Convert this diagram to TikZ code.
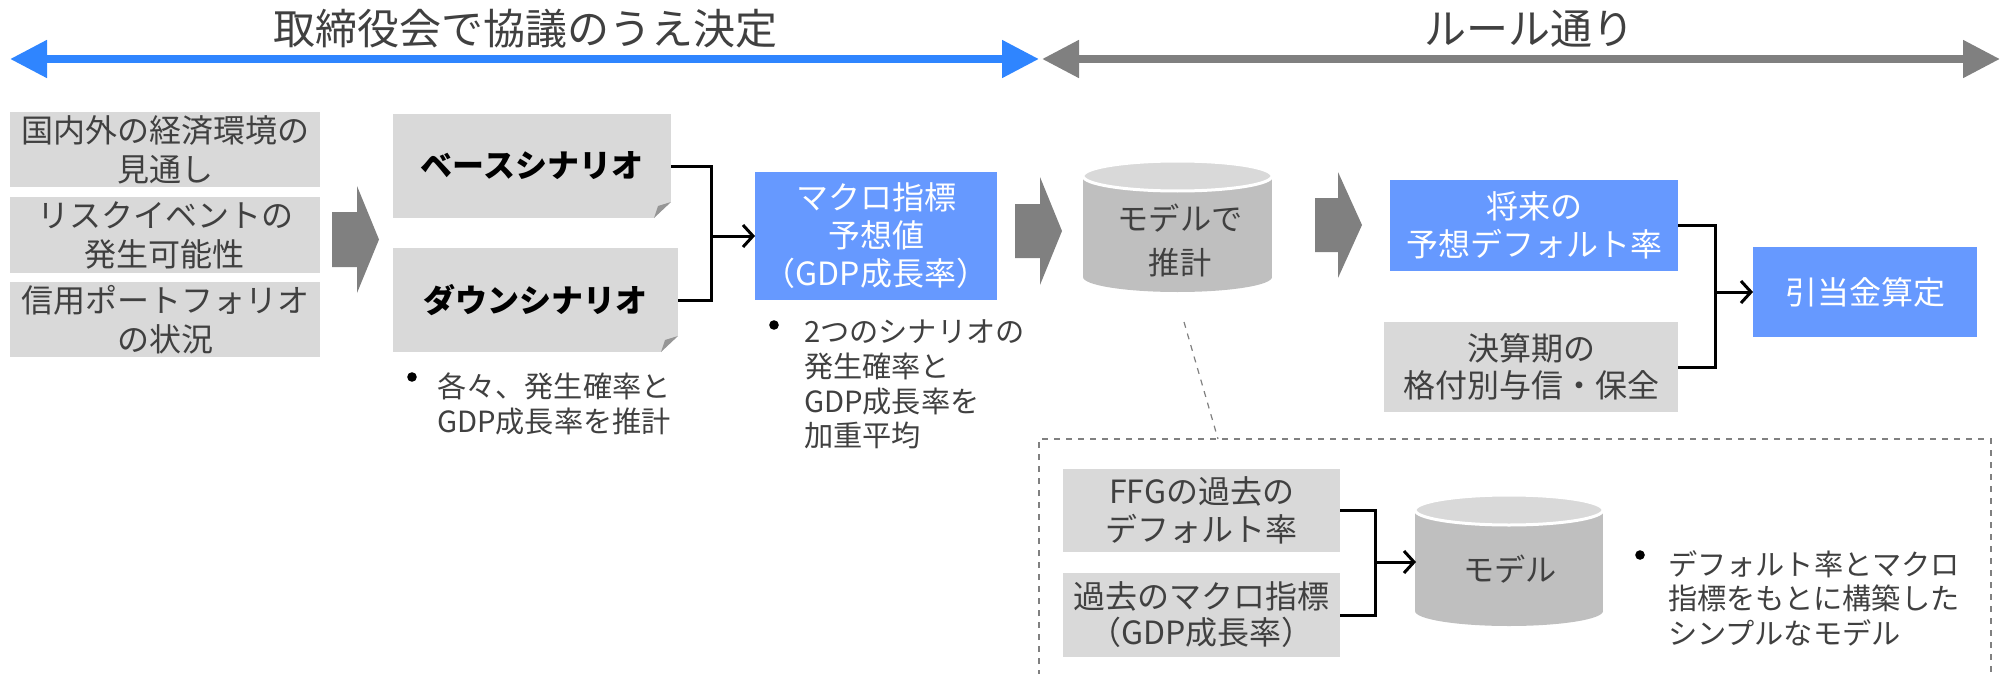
\documentclass[tikz,border=0pt]{standalone}
\usepackage{fontspec}
\setmainfont{Noto Sans CJK JP}
\usetikzlibrary{arrows.meta,calc}
\definecolor{topblue}{RGB}{47,133,255}
\definecolor{topgray}{RGB}{128,128,128}
\definecolor{boxblue}{RGB}{102,153,255}
\definecolor{boxgray}{RGB}{217,217,217}
\definecolor{txtgray}{RGB}{64,64,64}
\definecolor{cylbody}{RGB}{191,191,191}
\definecolor{cyltop}{RGB}{217,217,217}
\definecolor{foldgray}{RGB}{150,150,150}
\definecolor{blockgray}{RGB}{128,128,128}
\definecolor{dashgray}{RGB}{128,128,128}
\begin{document}
\begin{tikzpicture}[x=0.5pt,y=-0.5pt,
  every node/.style={inner sep=0pt,outer sep=0pt},
  gbox/.style={fill=boxgray,text=txtgray,align=center,font=\fontsize{16}{19.5}\selectfont},
  bbox/.style={fill=boxblue,text=white,align=center,font=\fontsize{16}{19}\selectfont},
  scen/.style={fill=boxgray,text=black,align=center,font=\fontsize{16}{19}\selectfont\bfseries},
  btxt/.style={text=txtgray,align=left,anchor=west,font=\fontsize{14.6}{17.3}\selectfont},
  bdot/.style={circle,fill=black,minimum size=4.8pt},
  ttl/.style={text=txtgray,font=\fontsize{21}{24}\selectfont},
  conn/.style={black,line width=1.5pt},
  tip/.style={-{Straight Barb[length=5pt,width=11pt]}},
  bigtip/.style={{Triangle[length=18.5pt,width=18pt]}-{Triangle[length=18.5pt,width=18pt]}},
  cyltxt/.style={text=txtgray,align=center,font=\fontsize{15.6}{22}\selectfont},
]
\useasboundingbox (0,0) rectangle (2001,674);

% ---------- titles and top arrows
\node[ttl] (title1) at (525,29) {取締役会で協議のうえ決定};
\node[ttl] (title2) at (1529,29) {ルール通り};
\coordinate (a1) at (10,59);
\coordinate (a2) at (1039,59);
\coordinate (a3) at (1042,59);
\coordinate (a4) at (2000,59);
\draw[topblue,line width=4pt,bigtip] (a1) -- (a2);
\draw[topgray,line width=4pt,bigtip] (a3) -- (a4);

% ---------- left column
\node[gbox,minimum width=155pt,minimum height=37.5pt] (in1) at (165,149.5) {国内外の経済環境の\\見通し};
\node[gbox,minimum width=155pt,minimum height=38pt] (in2) at (165,235) {リスクイベントの\\発生可能性};
\node[gbox,minimum width=155pt,minimum height=37.5pt] (in3) at (165,319.5) {信用ポートフォリオ\\の状況};

% block arrow 1
\fill[blockgray] (332,212) -- (357,212) -- (357,186) -- (379,239.5) -- (357,293) -- (357,267) -- (332,267) -- cycle;

% ---------- scenarios
\node[scen,minimum width=139pt,minimum height=52pt] (base) at (532,166) {ベースシナリオ};
\node[scen,minimum width=142.5pt,minimum height=52pt] (down) at (535.5,300) {ダウンシナリオ};
\foreach \b in {base,down}{
  \fill[white] ($(\b.south east)+(-17,0)$) -- (\b.south east) -- ($(\b.south east)+(0,-16)$) -- cycle;
  \fill[foldgray] ($(\b.south east)+(-17,0)$) -- ($(\b.south east)+(0,-16)$) -- ($(\b.south east)+(-13,-12)$) -- cycle;
}
\node[bdot] (dot1) at (412,377) {};
\node[btxt] (txt1) at (437,404) {各々、発生確率と\\GDP成長率を推計};

% connector to macro box
\node[bbox,minimum width=121pt,minimum height=64pt] (macro) at (876,236) {マクロ指標\\予想値\\（GDP成長率）};
\coordinate (j1) at (711,236);
\draw[conn] (base.east) -| (j1 |- down.east) -- (down.east);
\draw[conn,tip] (j1) -- (macro.west);

\node[bdot] (dot2) at (774,325) {};
\node[btxt] (txt2) at (804,384.5) {2つのシナリオの\\発生確率と\\GDP成長率を\\加重平均};

% block arrow 2
\fill[blockgray] (1015,204) -- (1040,204) -- (1040,177) -- (1062,231) -- (1040,285) -- (1040,258) -- (1015,258) -- cycle;

% cylinder 1
\fill[cylbody] (1083,176) rectangle (1272,277);
\fill[cylbody] (1177.5,277) ellipse [x radius=47.25pt,y radius=7.5pt];
\filldraw[fill=cyltop,draw=white,line width=1.5pt] (1177.5,176) ellipse [x radius=47.25pt,y radius=7.5pt];
\node[cyltxt,minimum width=94pt] (cyl1) at (1180,240) {モデルで\\推計};

% block arrow 3
\fill[blockgray] (1315,198) -- (1338,198) -- (1338,172) -- (1362,225) -- (1338,278) -- (1338,252) -- (1315,252) -- cycle;

% ---------- right part
\node[bbox,minimum width=144pt,minimum height=45.5pt] (future) at (1534,225) {将来の\\予想デフォルト率};
\node[gbox,minimum width=147pt,minimum height=45pt,font=\fontsize{16}{18.5}\selectfont] (kessan) at (1531,367) {決算期の\\格付別与信・保全};
\node[bbox,minimum width=112pt,minimum height=45pt] (hikiate) at (1865,292) {引当金算定};
\coordinate (j2) at (1715,292);
\draw[conn] (future.east) -| (j2 |- kessan.east) -- (kessan.east);
\draw[conn,tip] (j2) -- (hikiate.west);

% ---------- dashed detail box
\coordinate (d1) at (1184,322);
\coordinate (d2) at (1218,439);
\draw[dashgray,dashed,line width=0.6pt] (d1) -- (d2);
\draw[dashgray,dashed,line width=0.6pt] (1039,700) |- (1991,439) -- (1991,700);

\node[gbox,minimum width=138.5pt,minimum height=41.5pt,font=\fontsize{16}{19}\selectfont] (ffg) at (1201.5,510) {FFGの過去の\\デフォルト率};
\node[gbox,minimum width=138.5pt,minimum height=42pt,font=\fontsize{16}{18}\selectfont] (kako) at (1201.5,615) {過去のマクロ指標\\（GDP成長率）};

% cylinder 2
\fill[cylbody] (1415,510) rectangle (1603,611);
\fill[cylbody] (1509,611) ellipse [x radius=47pt,y radius=7.5pt];
\filldraw[fill=cyltop,draw=white,line width=1.5pt] (1509,510) ellipse [x radius=47pt,y radius=7.5pt];
\node[cyltxt,minimum width=94pt] (cyl2) at (1510,569) {モデル};

\coordinate (j3) at (1375,562);
\draw[conn] (ffg.east) -| (j3 |- kako.east) -- (kako.east);
\draw[conn,tip] (j3) -- (j3 -| cyl2.west);

\node[bdot] (dot3) at (1640,555) {};
\node[btxt] (txt3) at (1668,598) {デフォルト率とマクロ\\指標をもとに構築した\\シンプルなモデル};
\end{tikzpicture}
\end{document}
